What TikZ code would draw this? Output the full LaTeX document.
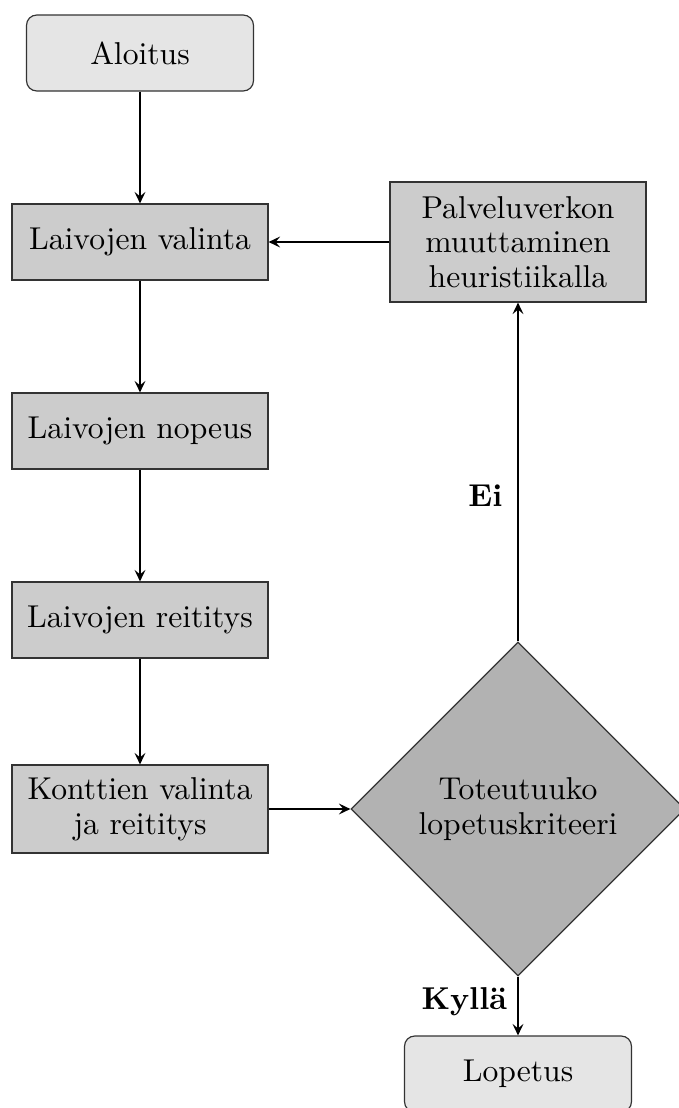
\documentclass[tikz,border=0pt]{standalone}
\usetikzlibrary{shapes.geometric, arrows.meta}
\begin{document}
\begin{tikzpicture}[
  x=0.34pt, y=-0.34pt,
  font=\fontsize{10.75pt}{11.75pt}\selectfont,
  process/.style={draw=black!80, fill=black!20, line width=0.4pt,
    minimum width=256*0.34pt, minimum height=76*0.34pt, inner sep=2pt,
    align=center, text=black},
  terminal/.style={draw=black!80, fill=black!10, line width=0.4pt,
    rounded corners=3.5pt, minimum width=227*0.34pt, minimum height=76*0.34pt,
    align=center},
  decision/.style={diamond, aspect=1, draw=black!80, fill=black!30,
    line width=0.4pt, minimum width=334*0.34pt, minimum height=334*0.34pt,
    inner sep=0pt, align=center},
  flow/.style={-{Stealth[length=3.9pt, width=3.7pt, inset=1.5pt]}, line width=0.65pt},
  answer/.style={font=\fontsize{10.75pt}{11.75pt}\selectfont\bfseries}
]
\useasboundingbox (0,0) rectangle (678,1108);

% start and end
\node[terminal] (alo) at (140,53) {Aloitus};
\node[terminal] (lop) at (518,1074) {Lopetus};

% main process chain
\node[process] (val) at (140,242) {Laivojen valinta};
\node[process] (nop) at (140,431) {Laivojen nopeus};
\node[process] (rei) at (140,620) {Laivojen reititys};
\node[process, minimum height=88*0.34pt] (kon) at (140,809) {Konttien valinta\\ja reititys};

% feedback branch
\node[process, minimum height=120*0.34pt] (pal) at (518,242)
  {Palveluverkon\\muuttaminen\\heuristiikalla};
\node[decision] (dia) at (518,809) {Toteutuuko\\lopetuskriteeri};

% connectors
\draw[flow] (alo) -- (val);
\draw[flow] (val) -- (nop);
\draw[flow] (nop) -- (rei);
\draw[flow] (rei) -- (kon);
\draw[flow] (kon) -- (dia);
\draw[flow] (pal) -- (val);
\draw[flow] (dia.north) -- node[pos=0.43, left, inner sep=5pt, answer] {Ei} (pal.south);
\draw[flow] (dia.south) -- node[pos=0.43, left, inner sep=3.4pt, answer] {Kyllä} (lop.north);
\end{tikzpicture}
\end{document}
